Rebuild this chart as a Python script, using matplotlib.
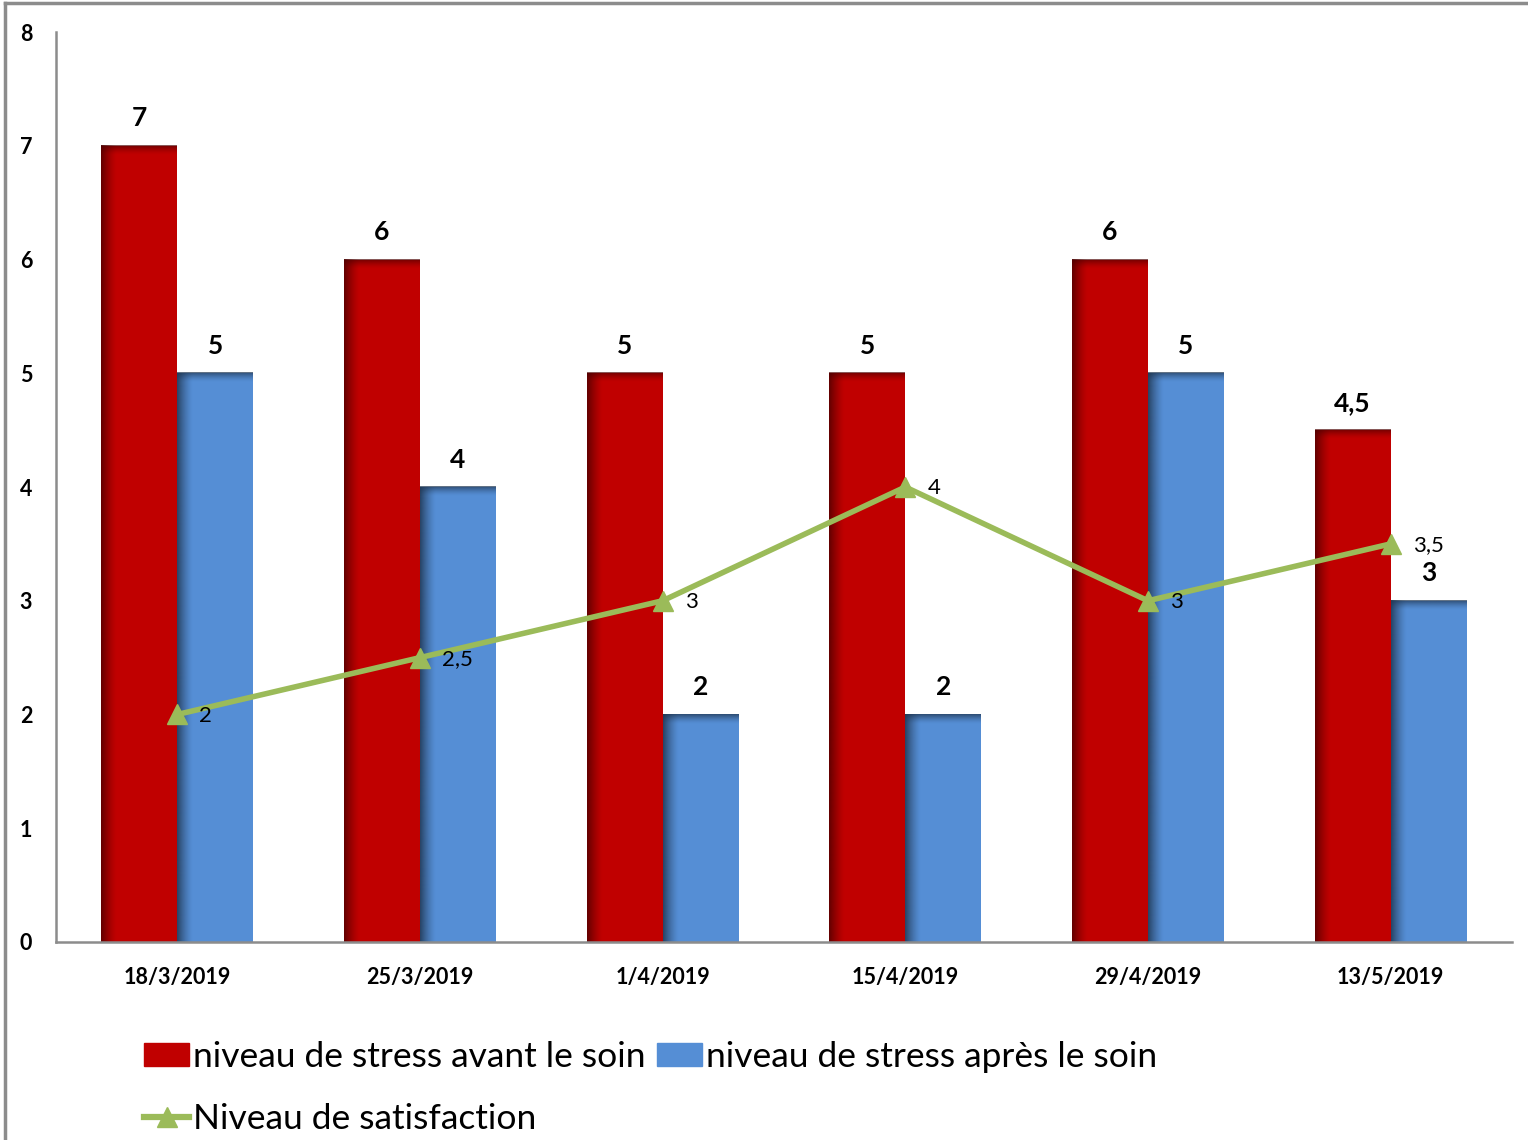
import numpy as np
import matplotlib
matplotlib.use("Agg")
import matplotlib.pyplot as plt
from matplotlib.lines import Line2D

# Data
dates = ["18/3/2019", "25/3/2019", "1/4/2019", "15/4/2019", "29/4/2019", "13/5/2019"]
stress_avant = [7, 6, 5, 5, 6, 4.5]
stress_apres = [5, 4, 2, 2, 5, 3]
satisfaction = [2, 2.5, 3, 4, 3, 3.5]
y_ticks = [0, 1, 2, 3, 4, 5, 6, 7, 8]

lbl_avant = "niveau de stress avant le soin"
lbl_apres = "niveau de stress après le soin"
lbl_satis = "Niveau de satisfaction"

RED = "#C00000"
BLUE = "#558ED5"
GREEN = "#9BBB59"
GREY = "#8C8C8C"

plt.rcParams["font.family"] = ["Lato", "DejaVu Sans"]


def fmt(v):
    s = ("%g" % v)
    return s.replace(".", ",")


fig = plt.figure(figsize=(15.28, 11.4), dpi=100)
ax = fig.add_axes([0.0366, 0.1737, 0.9529, 0.7982])

x = np.arange(len(dates))
w = 0.313
bars_a = ax.bar(x - w / 2, stress_avant, width=w, color=RED, zorder=2)
bars_b = ax.bar(x + w / 2, stress_apres, width=w, color=BLUE, zorder=2)

ax.set_xlim(-0.5, len(dates) - 0.5)
ax.set_ylim(0, 8)


def shade(bars, dark, edge_w=0.065, top_h=0.08, a_left=0.8, a_top=0.7):
    rgb = np.array(matplotlib.colors.to_rgb(dark))
    for b in bars:
        bx, by = b.get_x(), b.get_y()
        bw, bh = b.get_width(), b.get_height()
        # left edge fade
        n = 64
        img = np.zeros((1, n, 4))
        img[..., :3] = rgb
        img[0, :, 3] = a_left * np.linspace(1, 0, n) ** 1.4
        ax.imshow(img, extent=(bx, bx + edge_w, by, by + bh), aspect="auto",
                  interpolation="bilinear", zorder=2.5)
        # top edge fade
        img2 = np.zeros((n, 1, 4))
        img2[..., :3] = rgb
        img2[:, 0, 3] = a_top * np.linspace(1, 0, n) ** 1.5
        ax.imshow(img2, extent=(bx, bx + bw, by + bh - top_h, by + bh), aspect="auto",
                  interpolation="bilinear", origin="upper", zorder=2.5)


shade(bars_a, "#4a0000")
shade(bars_b, "#1f3550", a_left=0.85, a_top=0.75)

ax.set_xlim(-0.5, len(dates) - 0.5)
ax.set_ylim(0, 8)

line, = ax.plot(x, satisfaction, color=GREEN, lw=4.0, marker="^", markersize=14,
                zorder=4, solid_capstyle="round")

# Value labels on bars
for b, v in zip(list(bars_a) + list(bars_b), stress_avant + stress_apres):
    ax.annotate(fmt(v), (b.get_x() + b.get_width() / 2, b.get_height()),
                xytext=(0, 11), textcoords="offset points", ha="center", va="bottom",
                fontsize=19, fontweight="bold", color="black", zorder=5)

# Value labels on the line
for xi, v in zip(x, satisfaction):
    ax.annotate(fmt(v), (xi, v), xytext=(16, -1), textcoords="offset points",
                ha="left", va="center", fontsize=16, color="black", zorder=5)

ax.set_xticks(x)
ax.set_xticklabels(dates, fontsize=15.5, fontweight="bold")
ax.set_yticks(y_ticks)
ax.set_yticklabels([str(t) for t in y_ticks], fontsize=15.5, fontweight="bold")
ax.tick_params(axis="x", length=0, pad=18)
ax.tick_params(axis="y", length=0, pad=17)

for s in ("top", "right"):
    ax.spines[s].set_visible(False)
for s in ("left", "bottom"):
    ax.spines[s].set_color(GREY)
    ax.spines[s].set_linewidth(1.8)

# Legend: row-major layout via column-major ordering
h_a = matplotlib.patches.Patch(color=RED)
h_b = matplotlib.patches.Patch(color=BLUE)
h_c = Line2D([], [], color=GREEN, lw=4.5, marker="^", markersize=15)
leg = fig.legend([h_a, h_c, h_b], [lbl_avant, lbl_satis, lbl_apres], ncol=2,
                 loc="upper left", bbox_to_anchor=(0.085, 0.099), frameon=False,
                 fontsize=25.5, handlelength=1.27, handleheight=0.62, handletextpad=0.12,
                 columnspacing=0.31, labelspacing=0.83, borderaxespad=0)

# Outer frame lines
fig.add_artist(Line2D([0.0035, 1.0], [0.997, 0.997], color=GREY, lw=2.5, transform=fig.transFigure))
fig.add_artist(Line2D([0.0035, 0.0035], [0.0, 0.997], color=GREY, lw=2.5, transform=fig.transFigure))

fig.savefig("out.png", dpi=100)
